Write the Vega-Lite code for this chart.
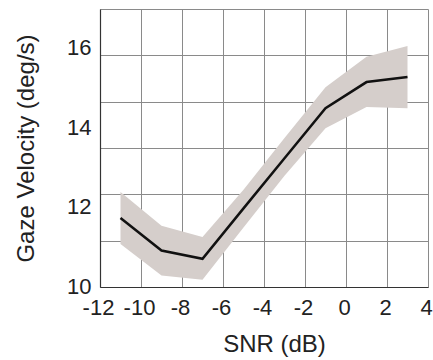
{
  "$schema": "https://vega.github.io/schema/vega-lite/v6.json",
  "width": 328,
  "height": 278,
  "autosize": {"type": "none"},
  "padding": {"left": 100, "top": 9, "right": 5, "bottom": 73},
  "background": "white",
  "config": {
    "view": {"stroke": null},
    "font": "Liberation Sans",
    "axis": {"labelFont": "Liberation Sans", "titleFont": "Liberation Sans", "titleFontWeight": "normal", "labelColor": "#222", "titleColor": "#222"}
  },
  "data": {
    "values": [
      {"snr": -11, "mean": 11.74, "lo": 11.08, "hi": 12.39},
      {"snr": -9, "mean": 10.92, "lo": 10.29, "hi": 11.54},
      {"snr": -7, "mean": 10.71, "lo": 10.18, "hi": 11.26},
      {"snr": -5, "mean": 11.98, "lo": 11.5, "hi": 12.45},
      {"snr": -3, "mean": 13.24, "lo": 12.8, "hi": 13.75},
      {"snr": -1, "mean": 14.5, "lo": 14.0, "hi": 15.03},
      {"snr": 1, "mean": 15.16, "lo": 14.53, "hi": 15.8},
      {"snr": 3, "mean": 15.29, "lo": 14.5, "hi": 16.07}
    ]
  },
  "resolve": {"axis": {"y": "independent"}},
  "layer": [
    {
      "mark": {"type": "area", "color": "#d5cecb", "opacity": 1},
      "encoding": {
        "x": {
          "field": "snr", "type": "quantitative",
          "scale": {"domain": [-12, 4], "nice": false, "zero": false},
          "axis": {
            "values": [-12, -10, -8, -6, -4, -2, 0, 2, 4],
            "labelExpr": "'' + datum.value",
            "labelOverlap": false, "labelFlush": false, "labelBound": false,
            "grid": true, "gridColor": "#8a8a8a", "gridWidth": 1, "gridOpacity": 1,
            "domain": true, "domainColor": "#333", "domainWidth": 1.2,
            "ticks": false, "tickSize": 0,
            "labelFontSize": 22, "labelPadding": 10, "labelOffset": -2,
            "title": "SNR (dB)", "titleFontSize": 24,
            "titleX": 174, "titleY": 64, "titleBaseline": "alphabetic", "titleAlign": "center"
          }
        },
        "y": {
          "field": "lo", "type": "quantitative",
          "scale": {"domain": [10, 17], "nice": false, "zero": false},
          "axis": {
            "orient": "left",
            "values": [10, 12, 14, 16],
            "labelOverlap": false, "labelFlush": false,
            "grid": false,
            "domain": true, "domainColor": "#333", "domainWidth": 1.2,
            "ticks": false, "tickSize": 0,
            "labelFontSize": 22, "labelPadding": 9, "labelOffset": -1,
            "title": "Gaze Velocity (deg/s)", "titleFontSize": 24,
            "titleAngle": -90, "titleX": -67, "titleY": 139,
            "titleBaseline": "alphabetic", "titleAlign": "center"
          }
        },
        "y2": {"field": "hi"}
      }
    },
    {
      "mark": {"type": "line", "color": "#111", "strokeWidth": 2.5},
      "encoding": {
        "x": {"field": "snr", "type": "quantitative"},
        "y": {
          "field": "mean", "type": "quantitative",
          "axis": {
            "orient": "left",
            "values": [10, 11.1667, 12.3333, 13.5, 14.6667, 15.8333, 17],
            "grid": true, "gridColor": "#8a8a8a", "gridWidth": 1, "gridOpacity": 1,
            "labels": false, "domain": false, "ticks": false, "tickSize": 0,
            "title": null
          }
        }
      }
    }
  ]
}
